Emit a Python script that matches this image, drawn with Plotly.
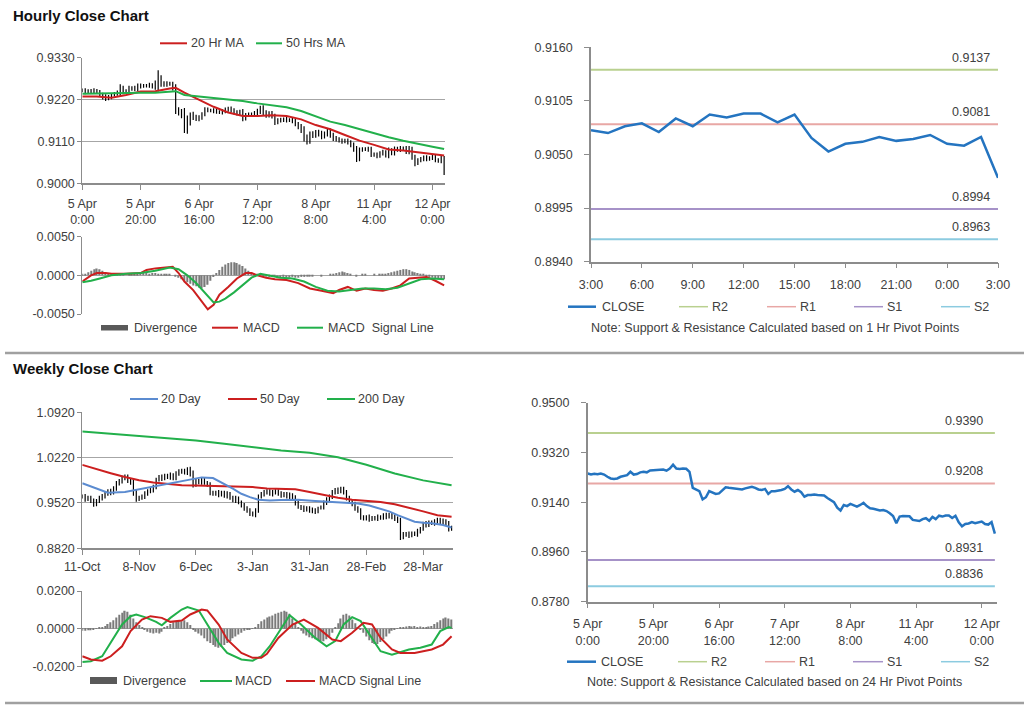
import plotly.graph_objects as go

W, H = 1024, 706
FONT = "Liberation Sans, Arial, sans-serif"
TXT = "#404040"
RED = "#cc1f1f"
GREEN = "#22b04b"
BLUE20 = "#5b8bd0"
CLOSE_C = "#2474c0"
R2_C = "#b9d08f"
R1_C = "#e8a7a5"
S1_C = "#a692c8"
S2_C = "#8ccbe0"
GRID = "#a6a6a6"
AXIS = "#8c8c8c"
DIV_C = "#7a7a7a"

# ---------------- Hourly data (125 hourly bars) ----------------
h_close = [
    0.9244, 0.9240, 0.9243, 0.9241, 0.9244, 0.9240, 0.9232, 0.9226, 0.9224, 0.9226,
    0.9232, 0.9236, 0.9238, 0.9250, 0.9240, 0.9242, 0.9248, 0.9250, 0.9248, 0.9255,
    0.9256, 0.9256, 0.9257, 0.9258, 0.9254, 0.9262, 0.9276, 0.9262, 0.9260, 0.9262,
    0.9261, 0.9250, 0.9192, 0.9186, 0.9180, 0.9150, 0.9158, 0.9180, 0.9174, 0.9170,
    0.9172, 0.9182, 0.9194, 0.9192, 0.9191, 0.9190, 0.9188, 0.9186, 0.9190, 0.9193,
    0.9196, 0.9192, 0.9186, 0.9184, 0.9188, 0.9170, 0.9180, 0.9180, 0.9181, 0.9184,
    0.9188, 0.9198, 0.9186, 0.9178, 0.9184, 0.9176, 0.9160, 0.9166, 0.9166, 0.9168,
    0.9166, 0.9166, 0.9164, 0.9155, 0.9148, 0.9140, 0.9120, 0.9110, 0.9130, 0.9126,
    0.9134, 0.9130, 0.9124, 0.9130, 0.9138, 0.9126, 0.9118, 0.9116, 0.9112, 0.9110,
    0.9112, 0.9108, 0.9100, 0.9090, 0.9064, 0.9088, 0.9090, 0.9090, 0.9089, 0.9076,
    0.9075, 0.9072, 0.9079, 0.9082, 0.9073, 0.9087, 0.9079, 0.9091, 0.9088, 0.9092,
    0.9092, 0.9083, 0.9091, 0.9067, 0.9053, 0.9061, 0.9063, 0.9068, 0.9064, 0.9066,
    0.9070, 0.9061, 0.9059, 0.9068, 0.9026,
]
# extra wick beyond the bar body, in pips (0.0001)
h_wick = [
    5, 6, 4, 5, 6, 4, 5, 6, 8, 6,
    5, 4, 6, 10, 6, 5, 8, 5, 6, 7,
    6, 5, 4, 6, 5, 8, 21, 8, 6, 6,
    5, 6, 10, 8, 9, 18, 20, 6, 8, 6,
    7, 5, 6, 5, 4, 6, 5, 4, 5, 6,
    5, 6, 5, 6, 5, 7, 5, 6, 5, 6,
    8, 6, 7, 6, 5, 6, 7, 5, 6, 5,
    6, 5, 6, 5, 6, 8, 10, 8, 6, 7,
    6, 7, 8, 6, 7, 6, 7, 6, 5, 6,
    5, 6, 5, 7, 8, 6, 5, 5, 6, 7,
    5, 6, 5, 6, 5, 7, 5, 6, 5, 6,
    5, 6, 7, 5, 8, 5, 6, 5, 6, 5,
    5, 6, 5, 6, 4,
]
h_ma_x = [0, 5, 10, 15, 20, 25, 30, 32, 35, 40, 45, 50, 55, 60, 65, 70, 75, 80, 85, 90, 95, 100, 105, 110, 115, 120, 124]
h_ma20 = [0.9228, 0.9228, 0.9225, 0.9232, 0.9241, 0.9242, 0.9249, 0.9251, 0.9238, 0.9219, 0.9201, 0.9186, 0.9177,
          0.9177, 0.9179, 0.9177, 0.9168, 0.9153, 0.9142, 0.9127, 0.9112, 0.9101, 0.9089, 0.9086, 0.9081, 0.9076, 0.9073]
h_ma50 = [0.9235, 0.9236, 0.9236, 0.9238, 0.9238, 0.9238, 0.9240, 0.9242, 0.9232, 0.9228, 0.9223, 0.9219, 0.9216,
          0.9210, 0.9206, 0.9200, 0.9190, 0.9175, 0.9162, 0.9153, 0.9142, 0.9131, 0.9121, 0.9112, 0.9105, 0.9096, 0.9090]
# divergence in units of 0.0001
h_div = [
    1, 2, 4, 6, 8, 9, 8, 6, 4, 2,
    1, 1, 2, 1, 1, 0, 1, 1, 2, 2,
    3, 3, 3, 2, 3, 3, 2, 2, 1, 1,
    1, 0, -1, -3, -5, -7, -9, -11, -13, -14,
    -16, -17, -15, -12, -7, -2, 3, 7, 11, 14,
    16, 17, 17, 16, 14, 12, 9, 6, 4, 2,
    1, 0, -1, -1, -2, -2, -2, -3, -3, -2,
    -3, -3, -2, -3, -3, -2, -2, -1, -1, -1,
    0, 0, -1, 0, 0, 1, 2, 3, 4, 5,
    4, 3, 1, 0, -1, 0, 1, 1, 0, 0,
    1, 0, 1, 1, 2, 3, 4, 5, 6, 7,
    8, 8, 7, 5, 4, 3, 2, 1, -1, -2,
    -3, -4, -4, -5, -5,
]
h_macd_x = [0, 3, 5, 8, 10, 15, 20, 22, 25, 28, 31, 33, 35, 38, 41, 43, 45, 47, 50, 53, 56, 58, 60, 63, 66, 70,
            74, 78, 82, 86, 88, 91, 94, 97, 100, 103, 106, 109, 112, 115, 118, 121, 124]
h_macd = [-0.0008, 0.0000, 0.0003, 0.0003, 0.0002, 0.0002, 0.0003, 0.0007, 0.0009, 0.0010, 0.0011, 0.0003, -0.0008,
          -0.0019, -0.0034, -0.0044, -0.0038, -0.0025, -0.0015, -0.0004, 0.0003, 0.0003, 0.0000, -0.0003, -0.0005,
          -0.0006, -0.0010, -0.0017, -0.0020, -0.0023, -0.0019, -0.0015, -0.0020, -0.0017, -0.0019, -0.0020,
          -0.0017, -0.0013, -0.0004, -0.0003, -0.0002, -0.0007, -0.0013]
h_sig_x = [0, 3, 6, 10, 15, 20, 25, 30, 33, 36, 39, 42, 45, 47, 49, 52, 55, 58, 61, 64, 68, 72, 76, 80, 84, 88,
           92, 96, 100, 104, 108, 112, 116, 120, 124]
h_sig = [-0.0009, -0.0007, -0.0004, 0.0000, 0.0002, 0.0003, 0.0006, 0.0010, 0.0008, 0.0000, -0.0010, -0.0022,
         -0.0035, -0.0034, -0.0030, -0.0022, -0.0012, -0.0003, 0.0002, 0.0000, -0.0003, -0.0004, -0.0008, -0.0015,
         -0.0020, -0.0021, -0.0019, -0.0017, -0.0017, -0.0018, -0.0016, -0.0010, -0.0005, -0.0004, -0.0005]
h_xticks = [0, 20, 40, 60, 80, 100, 120]
h_xlabels = ["5 Apr<br>0:00", "5 Apr<br>20:00", "6 Apr<br>16:00", "7 Apr<br>12:00",
             "8 Apr<br>8:00", "11 Apr<br>4:00", "12 Apr<br>0:00"]
h_yticks = [0.9000, 0.9110, 0.9220, 0.9330]
h_macd_ticks = [-0.005, 0.0, 0.005]
h_macd_labels = ["-0.0050", "0.0000", "0.0050"]

# last 24 hours (right top chart)
hr_labels = ["3:00", "6:00", "9:00", "12:00", "15:00", "18:00", "21:00", "0:00", "3:00"]
hr_yticks = [0.8940, 0.8995, 0.9050, 0.9105, 0.9160]
pivot_1h = {"R2": 0.9137, "R1": 0.9081, "S1": 0.8994, "S2": 0.8963}
pivot_24h = {"R2": 0.9390, "R1": 0.9208, "S1": 0.8931, "S2": 0.8836}
w_yticks_r = [0.8780, 0.8960, 0.9140, 0.9320, 0.9500]

# ---------------- Daily data (131 daily bars) ----------------
d_close = [
    0.962, 0.958, 0.960, 0.955, 0.950, 0.955, 0.960, 0.962, 0.966, 0.970,
    0.968, 0.975, 0.982, 0.986, 0.990, 0.993, 0.986, 0.984, 0.968, 0.958,
    0.960, 0.962, 0.966, 0.970, 0.972, 0.976, 0.988, 0.992, 0.990, 0.994,
    0.992, 0.995, 0.990, 0.998, 1.000, 1.002, 0.999, 1.003, 0.998, 0.980,
    0.986, 0.984, 0.988, 0.983, 0.980, 0.968, 0.966, 0.968, 0.965, 0.968,
    0.963, 0.966, 0.960, 0.956, 0.959, 0.953, 0.948, 0.944, 0.940, 0.936,
    0.934, 0.940, 0.962, 0.966, 0.968, 0.970, 0.966, 0.968, 0.970, 0.966,
    0.964, 0.966, 0.962, 0.964, 0.960, 0.952, 0.946, 0.944, 0.942, 0.944,
    0.940, 0.941, 0.938, 0.944, 0.946, 0.952, 0.958, 0.962, 0.968, 0.972,
    0.970, 0.974, 0.968, 0.960, 0.954, 0.950, 0.944, 0.940, 0.930, 0.928,
    0.930, 0.927, 0.929, 0.928, 0.930, 0.929, 0.933, 0.931, 0.934, 0.930,
    0.928, 0.924, 0.900, 0.903, 0.904, 0.902, 0.905, 0.904, 0.908, 0.912,
    0.920, 0.918, 0.922, 0.921, 0.923, 0.926, 0.922, 0.924, 0.920, 0.912,
    0.914,
]
# extra wick beyond the bar body, in units of 0.001
d_wick = [
    3, 4, 3, 3, 4, 3, 3, 4, 3, 3,
    4, 3, 4, 3, 4, 3, 3, 4, 5, 4,
    3, 3, 4, 3, 3, 4, 3, 3, 4, 3,
    3, 4, 3, 3, 4, 3, 3, 4, 5, 4,
    3, 3, 4, 3, 3, 4, 3, 3, 4, 3,
    3, 4, 3, 3, 4, 3, 3, 4, 3, 4,
    3, 4, 3, 3, 4, 3, 3, 4, 3, 3,
    4, 3, 3, 4, 3, 4, 3, 3, 4, 3,
    3, 4, 3, 2, 2, 4, 3, 3, 4, 3,
    4, 3, 3, 4, 3, 3, 4, 3, 4, 3,
    3, 4, 3, 3, 4, 3, 3, 4, 3, 3,
    4, 3, 5, 4, 3, 4, 3, 3, 4, 3,
    3, 4, 3, 3, 4, 3, 3, 4, 3, 4,
    3,
]
d_ma20_x = [0, 5, 9, 15, 21, 27, 33, 38, 42, 46, 50, 53, 56, 59, 62, 66, 70, 76, 82, 88, 93, 97, 101, 105,
            108, 111, 114, 117, 120, 123, 127, 130]
d_ma20 = [0.9824, 0.9740, 0.9677, 0.9690, 0.9738, 0.9790, 0.9840, 0.9880, 0.9915, 0.9905, 0.9814, 0.9740,
          0.9662, 0.9610, 0.9571, 0.9560, 0.9565, 0.9570, 0.9550, 0.9535, 0.9525, 0.9510, 0.9480, 0.9434,
          0.9390, 0.9332, 0.9280, 0.9231, 0.9215, 0.9206, 0.9180, 0.9140]
d_ma50_x = [0, 5, 10, 15, 20, 25, 30, 35, 40, 45, 50, 55, 60, 65, 70, 75, 80, 85, 90, 95, 100, 105, 110,
            115, 120, 125, 130]
d_ma50 = [1.0108, 1.0040, 0.9980, 0.9920, 0.9870, 0.9835, 0.9810, 0.9795, 0.9789, 0.9785, 0.9780, 0.9772,
          0.9765, 0.9745, 0.9738, 0.9730, 0.9690, 0.9640, 0.9600, 0.9570, 0.9550, 0.9535, 0.9500, 0.9450,
          0.9390, 0.9332, 0.9307]
d_ma200_x = [0, 10, 20, 30, 40, 50, 60, 70, 80, 90, 100, 110, 120, 130]
d_ma200 = [1.0623, 1.0587, 1.0561, 1.0525, 1.0484, 1.0433, 1.0382, 1.0331, 1.0295, 1.0225, 1.0110, 0.9975,
           0.9869, 0.9792]
# divergence in units of 0.001
d_div = [
    -1.0, -1.0, -0.8, -0.8, -0.5, 0.3, 0.6, 1.0, 1.5, 2.5,
    3.5, 4.5, 6.0, 7.5, 8.5, 9.5, 9.0, 7.5, 5.5, 3.5,
    2.0, 1.0, -0.5, -1.5, -2.0, -2.5, -2.0, -2.5, -1.5, 0.5,
    1.5, 2.5, 3.5, 4.0, 4.5, 4.0, 4.5, 3.5, 2.0, -0.5,
    -1.5, -2.5, -3.5, -5.0, -6.5, -7.5, -8.5, -9.5, -10.0, -9.5,
    -8.5, -7.5, -6.5, -5.0, -4.0, -3.0, -2.0, -1.0, -0.5, -0.3,
    0.3, 1.0, 2.5, 4.0, 5.0, 6.0, 6.5, 7.0, 8.0, 8.5,
    9.0, 9.5, 9.0, 8.0, 5.5, 2.5, 0.5, -1.0, -2.5, -3.5,
    -4.5, -5.0, -5.5, -6.0, -6.5, -6.5, -5.5, -4.0, -2.0, 0.5,
    3.0, 5.5, 7.5, 8.0, 7.0, 5.0, 3.0, 1.0, -0.5, -2.0,
    -4.0, -6.0, -7.5, -8.0, -8.0, -7.0, -5.5, -4.0, -2.5, -1.0,
    -0.3, 0.2, 0.5, 0.8, 1.2, 1.5, 1.2, 1.5, 1.0, 1.2,
    0.8, 1.0, 1.2, 1.5, 2.5, 3.5, 4.5, 5.5, 6.0, 5.5,
    5.0,
]
d_macd_x = [0, 3, 7, 10, 14, 17, 19, 22, 26, 28, 31, 35, 37, 41, 44, 48, 51, 56, 60, 63, 66, 69, 73, 77, 82,
            86, 89, 92, 95, 98, 102, 105, 109, 111, 115, 119, 123, 126, 129, 130]
d_macd = [-0.0175, -0.0171, -0.0145, -0.0074, 0.0023, 0.0067, 0.0076, 0.0062, 0.0037, 0.0019, 0.0058, 0.0102,
          0.0115, 0.0097, 0.0023, -0.0074, -0.0127, -0.0162, -0.0168, -0.0145, -0.0092, -0.0020, 0.0072, 0.0023,
          -0.0048, -0.0092, -0.0065, 0.0023, 0.0062, 0.0041, -0.0048, -0.0118, -0.0136, -0.0127, -0.0109, -0.0100,
          -0.0083, -0.0012, 0.0009, 0.0005]
d_sig_x = [0, 3, 7, 10, 14, 17, 21, 24, 28, 31, 35, 38, 42, 44, 48, 51, 56, 60, 63, 65, 69, 74, 78, 83, 88,
           91, 95, 99, 102, 105, 109, 112, 117, 123, 127, 130]
d_sig = [-0.0145, -0.0162, -0.0168, -0.0145, -0.0092, -0.0012, 0.0049, 0.0067, 0.0058, 0.0037, 0.0044, 0.0076,
         0.0102, 0.0097, 0.0023, -0.0056, -0.0127, -0.0153, -0.0153, -0.0132, -0.0048, 0.0023, 0.0049, 0.0005,
         -0.0056, -0.0065, -0.0021, 0.0032, 0.0023, -0.0048, -0.0109, -0.0127, -0.0127, -0.0109, -0.0083, -0.0039]
d_xticks = [0, 20, 40, 60, 80, 100, 120]
d_xlabels = ["11-Oct", "8-Nov", "6-Dec", "3-Jan", "31-Jan", "28-Feb", "28-Mar"]
d_yticks = [0.8820, 0.9520, 1.0220, 1.0920]
d_macd_ticks = [-0.02, 0.0, 0.02]
d_macd_labels = ["-0.0200", "0.0000", "0.0200"]


def px(x):
    return x / W


def py(y):
    return 1 - y / H


fig = go.Figure()

# ---------- hourly price bars ----------
h_idx = list(range(len(h_close)))
h_open = [h_close[0]] + h_close[:-1]
h_high = [max(o, c) + w * 1e-4 for o, c, w in zip(h_open, h_close, h_wick)]
h_low = [min(o, c) - w * 1e-4 for o, c, w in zip(h_open, h_close, h_wick)]
fig.add_trace(go.Ohlc(x=h_idx, open=h_open, high=h_high, low=h_low, close=h_close,
                      xaxis="x", yaxis="y", tickwidth=0.2, name="Hourly",
                      increasing=dict(line=dict(color="black", width=1.2)),
                      decreasing=dict(line=dict(color="black", width=1.2))))
fig.add_trace(go.Scatter(x=h_ma_x, y=h_ma20, mode="lines", name="20 Hr MA",
                         line=dict(color=RED, width=2), xaxis="x", yaxis="y"))
fig.add_trace(go.Scatter(x=h_ma_x, y=h_ma50, mode="lines", name="50 Hrs MA",
                         line=dict(color=GREEN, width=2), xaxis="x", yaxis="y"))

# ---------- hourly MACD ----------
fig.add_trace(go.Bar(x=h_idx, y=[v * 1e-4 for v in h_div], width=0.45, name="Divergence",
                     marker=dict(color=DIV_C, line=dict(width=0)), xaxis="x2", yaxis="y2"))
fig.add_trace(go.Scatter(x=h_macd_x, y=h_macd, mode="lines", name="MACD",
                         line=dict(color=RED, width=2), xaxis="x2", yaxis="y2"))
fig.add_trace(go.Scatter(x=h_sig_x, y=h_sig, mode="lines", name="MACD Signal Line",
                         line=dict(color=GREEN, width=2), xaxis="x2", yaxis="y2"))

# ---------- right top: last 24 hours ----------
last = h_close[100:]
r_idx = list(range(len(last)))
for key, col in (("R2", R2_C), ("R1", R1_C), ("S1", S1_C), ("S2", S2_C)):
    fig.add_trace(go.Scatter(x=r_idx, y=[pivot_1h[key]] * len(r_idx), mode="lines", name=key,
                             line=dict(color=col, width=2), xaxis="x3", yaxis="y3"))
fig.add_trace(go.Scatter(x=r_idx, y=last, mode="lines", name="CLOSE",
                         line=dict(color=CLOSE_C, width=2.5), xaxis="x3", yaxis="y3"))

# ---------- daily price bars ----------
d_idx = list(range(len(d_close)))
d_open = [d_close[0]] + d_close[:-1]
d_high = [max(o, c) + w * 1e-3 for o, c, w in zip(d_open, d_close, d_wick)]
d_low = [min(o, c) - w * 1e-3 for o, c, w in zip(d_open, d_close, d_wick)]
fig.add_trace(go.Ohlc(x=d_idx, open=d_open, high=d_high, low=d_low, close=d_close,
                      xaxis="x4", yaxis="y4", tickwidth=0.2, name="Daily",
                      increasing=dict(line=dict(color="black", width=1.2)),
                      decreasing=dict(line=dict(color="black", width=1.2))))
fig.add_trace(go.Scatter(x=d_ma200_x, y=d_ma200, mode="lines", name="200 Day",
                         line=dict(color=GREEN, width=2), xaxis="x4", yaxis="y4"))
fig.add_trace(go.Scatter(x=d_ma50_x, y=d_ma50, mode="lines", name="50 Day",
                         line=dict(color=RED, width=2), xaxis="x4", yaxis="y4"))
fig.add_trace(go.Scatter(x=d_ma20_x, y=d_ma20, mode="lines", name="20 Day",
                         line=dict(color=BLUE20, width=2), xaxis="x4", yaxis="y4"))

# ---------- daily MACD ----------
fig.add_trace(go.Bar(x=d_idx, y=[v * 1e-3 for v in d_div], width=0.45, name="Divergence",
                     marker=dict(color=DIV_C, line=dict(width=0)), xaxis="x5", yaxis="y5"))
fig.add_trace(go.Scatter(x=d_macd_x, y=d_macd, mode="lines", name="MACD",
                         line=dict(color=GREEN, width=2), xaxis="x5", yaxis="y5"))
fig.add_trace(go.Scatter(x=d_sig_x, y=d_sig, mode="lines", name="MACD Signal Line",
                         line=dict(color=RED, width=2), xaxis="x5", yaxis="y5"))

# ---------- right bottom: hourly close with 24h pivots ----------
for key, col in (("R2", R2_C), ("R1", R1_C), ("S1", S1_C), ("S2", S2_C)):
    fig.add_trace(go.Scatter(x=h_idx, y=[pivot_24h[key]] * len(h_idx), mode="lines", name=key,
                             line=dict(color=col, width=2), xaxis="x6", yaxis="y6"))
fig.add_trace(go.Scatter(x=h_idx, y=h_close, mode="lines", name="CLOSE",
                         line=dict(color=CLOSE_C, width=2.5), xaxis="x6", yaxis="y6"))

# ---------- axes ----------
tickfont = dict(family=FONT, size=12.5, color=TXT)


def left_y(dom, rng, vals, labels, anchor):
    return dict(domain=dom, range=rng, tickvals=vals, ticktext=labels, showgrid=True,
                gridcolor=GRID, gridwidth=1, showline=True, linecolor=AXIS, linewidth=1,
                ticks="outside", ticklen=4, tickcolor=AXIS, zeroline=False, anchor=anchor,
                tickfont=tickfont, fixedrange=True, automargin=False)


def right_y(dom, rng, vals, anchor):
    return dict(domain=dom, range=rng, tickvals=vals, ticktext=[f"{v:.4f}" for v in vals],
                showgrid=False, showline=True, linecolor=AXIS, linewidth=1.5, ticks="outside",
                ticklen=5, tickcolor=AXIS, zeroline=False, anchor=anchor, tickfont=tickfont,
                ticklabelstandoff=9, fixedrange=True, automargin=False)


def x_axis(dom, rng, vals, labels, anchor, line=True, standoff=3):
    d = dict(domain=dom, range=rng, showgrid=False, zeroline=False, anchor=anchor,
             showline=line, linecolor=AXIS, linewidth=1.5 if line else 1, tickfont=tickfont,
             fixedrange=True, rangeslider=dict(visible=False), automargin=False)
    if vals is None:
        d.update(showticklabels=False, ticks="")
    else:
        d.update(tickvals=vals, ticktext=labels, ticks="outside", ticklen=5, tickcolor=AXIS,
                 ticklabelstandoff=standoff, tickangle=0)
    return d


layout = dict(
    width=W, height=H, margin=dict(l=0, r=0, t=0, b=0, pad=0), autosize=False,
    paper_bgcolor="white", plot_bgcolor="white", showlegend=False, hovermode=False,
    font=dict(family=FONT, size=12.5, color=TXT),
    xaxis=x_axis([px(82.3), px(445)], [0, 124.3], h_xticks, h_xlabels, "y", standoff=3),
    yaxis=left_y([py(183.3), py(57.7)], [0.9000, 0.9330], h_yticks,
                 [f"{v:.4f}" for v in h_yticks], "x"),
    xaxis2=x_axis([px(82.3), px(445)], [0, 124.3], None, None, "y2", line=False),
    yaxis2=left_y([py(314), py(236.7)], [-0.005, 0.005], h_macd_ticks, h_macd_labels, "x2"),
    xaxis3=x_axis([px(591), px(998)], [0, 24], list(range(0, 25, 3)), hr_labels, "y3", standoff=6),
    yaxis3=right_y([py(261.7), py(47.3)], [0.8940, 0.9160], hr_yticks, "x3"),
    xaxis4=x_axis([px(82.3), px(453)], [0, 130.5], d_xticks, d_xlabels, "y4", standoff=1),
    yaxis4=left_y([py(548.3), py(412.3)], [0.8820, 1.0920], d_yticks,
                  [f"{v:.4f}" for v in d_yticks], "x4"),
    xaxis5=x_axis([px(82.3), px(453)], [0, 130.5], None, None, "y5", line=False),
    yaxis5=left_y([py(666.7), py(591)], [-0.02, 0.02], d_macd_ticks, d_macd_labels, "x5"),
    xaxis6=x_axis([px(587.7), px(996.5)], [0, 124.5], h_xticks, h_xlabels, "y6", standoff=5),
    yaxis6=right_y([py(601.7), py(402.7)], [0.8780, 0.9500], w_yticks_r, "x6"),
)

shapes = []
annos = []


def seg(x0, x1, y, color, w):
    shapes.append(dict(type="line", xref="paper", yref="paper", x0=px(x0), x1=px(x1),
                       y0=py(y), y1=py(y), line=dict(color=color, width=w)))


def txt(x, y, s, size=12.5, anchor="left", bold=False, color=TXT):
    annos.append(dict(xref="paper", yref="paper", x=px(x), y=py(y), text=f"<b>{s}</b>" if bold else s,
                      showarrow=False, xanchor=anchor, yanchor="middle", borderpad=0,
                      font=dict(family=FONT, size=size, color=color)))


def rect(x0, x1, y0, y1, color):
    shapes.append(dict(type="rect", xref="paper", yref="paper", x0=px(x0), x1=px(x1),
                       y0=py(y1), y1=py(y0), fillcolor=color, line=dict(width=0)))


# section titles and separators
txt(12, 16, "Hourly Close Chart", size=15, bold=True, color="#111111")
txt(12, 369, "Weekly Close Chart", size=15, bold=True, color="#111111")
seg(5, 1024, 353, "#a0a0a0", 2.5)
seg(5, 1024, 703, "#a0a0a0", 2.5)

# legends - hourly price
seg(160, 187, 43.3, RED, 2)
txt(190, 43.3, "20 Hr MA")
seg(256, 282, 43.3, GREEN, 2)
txt(285, 43.3, "50 Hrs MA")
# legends - hourly MACD
rect(101, 128, 325, 330.5, "#595959")
txt(133, 327.7, "Divergence")
seg(212, 238, 327.7, RED, 2)
txt(242, 327.7, "MACD")
seg(297, 323, 327.7, GREEN, 2)
txt(327, 327.7, "MACD  Signal Line")
# legends - right top
for (x0, x1, tx, name, col, w) in ((568, 596, 601, "CLOSE", CLOSE_C, 2.5), (679, 708, 711, "R2", R2_C, 1.5),
                                    (767, 796, 799, "R1", R1_C, 1.5), (854, 883, 886, "S1", S1_C, 1.5),
                                    (941, 970, 973, "S2", S2_C, 1.5)):
    seg(x0, x1, 306.7, col, w)
    txt(tx, 306.7, name)
txt(775, 327.7, "Note: Support &amp; Resistance Calculated based on 1 Hr Pivot Points", anchor="center")
# legends - daily price
seg(130, 158, 399, BLUE20, 2)
txt(160, 399, "20 Day")
seg(228, 257, 399, RED, 2)
txt(259, 399, "50 Day")
seg(327, 355, 399, GREEN, 2)
txt(357, 399, "200 Day")
# legends - daily MACD
rect(90, 117, 677, 684, "#595959")
txt(122, 681, "Divergence")
seg(200, 232, 681, GREEN, 2)
txt(234, 681, "MACD")
seg(286, 315, 681, RED, 2)
txt(318, 681, "MACD Signal Line")
# legends - right bottom
for (x0, x1, tx, name, col, w) in ((567, 596, 600, "CLOSE", CLOSE_C, 2.5), (678, 707, 710, "R2", R2_C, 1.5),
                                    (765, 795, 798, "R1", R1_C, 1.5), (853, 883, 886, "S1", S1_C, 1.5),
                                    (941, 970, 973, "S2", S2_C, 1.5)):
    seg(x0, x1, 661.7, col, w)
    txt(tx, 661.7, name)
txt(774, 681.7, "Note: Support &amp; Resistance Calculated based on 24 Hr Pivot Points", anchor="center")

# pivot level labels
for key in ("R2", "R1", "S1", "S2"):
    annos.append(dict(xref="x3", yref="y3", x=24, y=pivot_1h[key], text=f"{pivot_1h[key]:.4f}",
                      showarrow=False, xanchor="right", yanchor="bottom", xshift=-6, yshift=3,
                      font=dict(family=FONT, size=12.5, color=TXT)))
    annos.append(dict(xref="x6", yref="y6", x=124.5, y=pivot_24h[key], text=f"{pivot_24h[key]:.4f}",
                      showarrow=False, xanchor="right", yanchor="bottom", xshift=-12, yshift=3,
                      font=dict(family=FONT, size=12.5, color=TXT)))

layout["shapes"] = shapes
layout["annotations"] = annos
fig.update_layout(**layout)
fig.write_html("out.html", config={"responsive": False, "displayModeBar": False},
               post_script="document.body.style.margin='0';document.body.style.overflow='hidden';")
